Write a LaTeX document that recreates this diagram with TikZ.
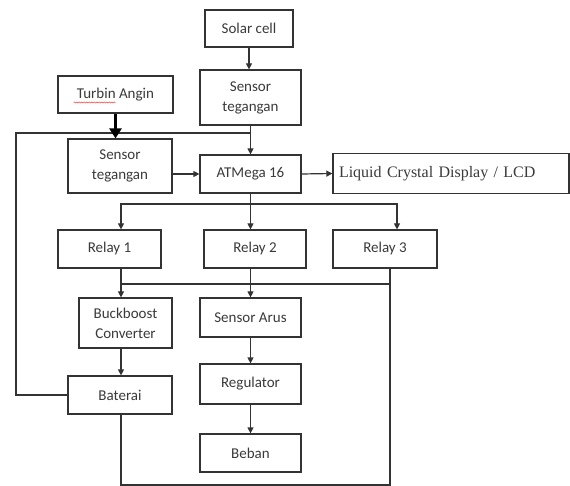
\documentclass[tikz,border=0pt]{standalone}
\usepackage{fontspec}
\setmainfont{Carlito}
\newfontfamily\lcdfont{Liberation Serif}
\usetikzlibrary{arrows.meta,calc,decorations.pathmorphing}
\definecolor{ln}{HTML}{333333}
\definecolor{tx}{HTML}{3A3A3A}
\tikzset{
  box/.style={draw=ln,line width=1.2pt,rectangle,align=center,text=tx,
    font=\fontsize{15}{20}\selectfont,inner sep=0pt},
  wire/.style={draw=ln,line width=1.2pt},
  arr/.style={wire,-{Triangle[length=6pt,width=6pt]}},
  bigarr/.style={draw=black,line width=2.4pt,-{Triangle[length=10pt,width=12pt]}}
}
\begin{document}
\begin{tikzpicture}[x=1pt,y=-1pt]
\useasboundingbox (0,0) rectangle (570,486);
\fill[white] (0,0) rectangle (570,486);
% nodes
\node[box,minimum width=88pt,minimum height=37pt] (Solar) at (249,28.5) {Solar cell};
\node[box,minimum width=101pt,minimum height=55pt] (SensT) at (250.5,97.5) {Sensor\\tegangan};
\node[box,minimum width=115pt,minimum height=37pt] (Turbin) at (115.5,94.5) {Turbin Angin};
\node[box,minimum width=104pt,minimum height=54pt] (SensL) at (120,166) {Sensor\\tegangan};
\node[box,minimum width=101pt,minimum height=38pt] (ATM) at (250.5,174) {ATMega 16};
\node[box,minimum width=236pt,minimum height=40pt,text width=224pt,align=left,
  font=\lcdfont\fontsize{16}{18}\selectfont] (LCD) at (451,173.5) {Liquid Crystal Display / LCD};
\node[box,minimum width=103pt,minimum height=38pt] (Relay1) at (109.5,249) {Relay 1};
\node[box,minimum width=102pt,minimum height=38pt] (Relay2) at (255,249) {Relay 2};
\node[box,minimum width=104pt,minimum height=38pt] (Relay3) at (385,249) {Relay 3};
\node[box,minimum width=93pt,minimum height=50pt] (Buck) at (125.5,323) {Buckboost\\Converter};
\node[box,minimum width=101pt,minimum height=39pt] (SArus) at (250.5,317.5) {Sensor Arus};
\node[box,minimum width=101pt,minimum height=40pt] (Reg) at (250.5,384) {Regulator};
\node[box,minimum width=101pt,minimum height=38pt] (Beban) at (250.5,453) {Beban};
\node[box,minimum width=104pt,minimum height=38pt] (Bat) at (120,395) {Baterai};
% spell-check squiggle under "Turbin"
\draw[red!75,line width=0.5pt,decorate,decoration={snake,amplitude=0.6pt,segment length=2.5pt}]
  ($(Turbin.center)+(-42,8)$) -- ++(42,0);
% helper coordinates
\coordinate (busA) at (121,204);
\coordinate (busA3) at (397,204);
\coordinate (busB) at (121,284);
\coordinate (r3) at (390,268);
\coordinate (lowL) at (121,485);
\coordinate (fbL) at (16,395);
\coordinate (fbTop) at (16,133);
% connectors
\draw[arr] (Solar.south) -- (Solar.south |- SensT.north);
\draw[arr] (SensT.south) -- (ATM.north);
\draw[wire] (fbTop -| SensT.south) -- (fbTop) -- (fbL) -- (Bat.west);
\draw[bigarr] (Turbin.south) -- (Turbin.south |- SensL.north);
\draw[arr] (SensL.east |- ATM) -- (ATM.west);
\draw[arr] (ATM.east) -- (LCD.west);
\draw[arr] (ATM.south) -- (ATM.south |- Relay2.north);
\draw[arr] (busA -| ATM.south) -- (busA) -- (busA |- Relay1.north);
\draw[arr] (busA -| ATM.south) -- (busA3) -- (busA3 |- Relay3.north);
\draw[arr] (busB |- Relay1.south) -- (busB) -- (busB |- Buck.north);
\draw[wire] (busB) -- (busB -| r3);
\draw[arr] (SArus.north |- Relay2.south) -- (SArus.north);
\draw[arr] (SArus.south) -- (Reg.north);
\draw[arr] (Reg.south) -- (Beban.north);
\draw[arr] (busB |- Buck.south) -- (busB |- Bat.north);
\draw[wire] (lowL |- Bat.south) -- (lowL) -- (lowL -| r3) -- (r3);
\end{tikzpicture}
\end{document}
